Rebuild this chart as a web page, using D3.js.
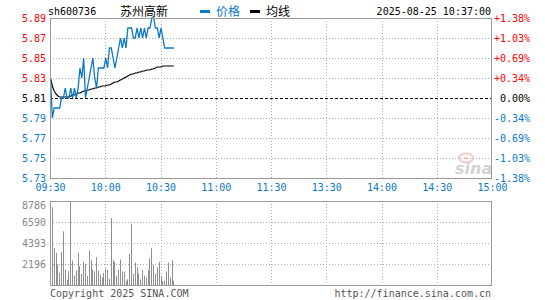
<!DOCTYPE html>
<html>
<head>
<meta charset="utf-8">
<script src="https://cdn.jsdelivr.net/npm/d3@7"></script>
<style>
  body { margin: 0; background: #fff; }
  text { font-family: "DejaVu Sans Mono", monospace; font-size: 10px; }
  .cjk { font-family: "Noto Sans CJK SC", sans-serif; font-size: 12px; }
</style>
</head>
<body>
<div class="chart"></div>
<script>
// ---- data ----
var timeLabels = ["09:30", "10:00", "10:30", "11:00", "11:30", "13:30", "14:00", "14:30", "15:00"];
var priceTicks = [5.89, 5.87, 5.85, 5.83, 5.81, 5.79, 5.77, 5.75, 5.73];
var pctLabels = ["+1.38%", "+1.03%", "+0.69%", "+0.34%", " 0.00%", "-0.34%", "-0.69%", "-1.03%", "-1.38%"];
var volTicks = [8786, 6590, 4393, 2196];
var preClose = 5.81;

// one value per minute from 09:30
var price = [5.83, 5.79, 5.80, 5.80, 5.80, 5.80, 5.81, 5.81, 5.82, 5.81,
  5.81, 5.82, 5.81, 5.82, 5.81, 5.82, 5.84, 5.83, 5.85, 5.81,
  5.82, 5.83, 5.84, 5.85, 5.83, 5.82, 5.84, 5.84, 5.84, 5.84,
  5.85, 5.84, 5.86, 5.86, 5.85, 5.84, 5.85, 5.86, 5.87, 5.86,
  5.87, 5.86, 5.88, 5.88, 5.88, 5.87, 5.87, 5.88, 5.87, 5.88,
  5.87, 5.88, 5.87, 5.88, 5.88, 5.89, 5.89, 5.88, 5.88, 5.87,
  5.88, 5.87, 5.86, 5.86, 5.86, 5.86, 5.86, 5.86];
var avgPrice = [5.830, 5.822, 5.817, 5.814, 5.812, 5.811, 5.811, 5.811, 5.811, 5.811,
  5.811, 5.812, 5.813, 5.813, 5.814, 5.815, 5.815, 5.816, 5.817, 5.817,
  5.818, 5.818, 5.819, 5.819, 5.820, 5.820, 5.821, 5.821, 5.822, 5.822,
  5.822, 5.823, 5.823, 5.824, 5.825, 5.826, 5.826, 5.827, 5.828, 5.829,
  5.830, 5.831, 5.832, 5.833, 5.834, 5.834, 5.835, 5.835, 5.836, 5.836,
  5.837, 5.837, 5.838, 5.838, 5.838, 5.839, 5.839, 5.840, 5.841, 5.841,
  5.841, 5.842, 5.842, 5.842, 5.842, 5.842, 5.842, 5.842];
var volume = [2230, 8130, 3870, 3350, 2200, 1250, 3450, 5610, 1600, 560,
  1440, 8786, 2560, 1000, 1500, 3350, 1950, 1150, 2440, 2160,
  940, 3620, 2580, 1600, 1440, 2900, 1500, 1080, 800, 1260,
  1700, 1600, 650, 7000, 2600, 2430, 950, 1570, 2680, 1400,
  1400, 450, 590, 3240, 6380, 1200, 2340, 1850, 1200, 590,
  1570, 950, 800, 1570, 2790, 3840, 2090, 1200, 1850, 2430,
  870, 420, 450, 1400, 2340, 800, 2600, 450];

var svgWidth = 545;
var svgHeight = 300;
var blue = "#0b78c9";
var red = "#ff0000";
var grid = "#aaaaaa";

var svg = d3.select(".chart").append("svg")
  .attr("width", svgWidth)
  .attr("height", svgHeight);

var x = d3.scaleLinear().domain([0, 240]).range([50, 492]);
var yP = d3.scaleLinear().domain([5.73, 5.89]).range([178, 18]);
var yV = d3.scaleLinear().domain([0, 8786]).range([285, 201]);

var tickColor = (v) => v > preClose + 1e-6 ? red : (v < preClose - 1e-6 ? blue : "#000");

//-------- grids -------------------------
var halfHours = d3.range(1, 8).map(d => d * 30);

svg.append("g").selectAll("line")
  .data(priceTicks.filter(d => d < 5.89 && d > 5.73 && d !== preClose))
  .enter().append("line")
  .attr("x1", x(0)).attr("x2", x(240))
  .attr("y1", d => Math.round(yP(d)) + 0.5).attr("y2", d => Math.round(yP(d)) + 0.5)
  .attr("stroke", grid).attr("stroke-dasharray", "1,2");

svg.append("g").selectAll("line")
  .data(halfHours)
  .enter().append("line")
  .attr("x1", d => Math.round(x(d)) + 0.5).attr("x2", d => Math.round(x(d)) + 0.5)
  .attr("y1", yP(5.89)).attr("y2", yP(5.73))
  .attr("stroke", grid).attr("stroke-dasharray", "1,2");

svg.append("g").selectAll("line")
  .data(volTicks.slice(1))
  .enter().append("line")
  .attr("x1", x(0)).attr("x2", x(240))
  .attr("y1", d => Math.round(yV(d)) + 0.5).attr("y2", d => Math.round(yV(d)) + 0.5)
  .attr("stroke", grid).attr("stroke-dasharray", "1,2");

svg.append("g").selectAll("line")
  .data(halfHours)
  .enter().append("line")
  .attr("x1", d => Math.round(x(d)) + 0.5).attr("x2", d => Math.round(x(d)) + 0.5)
  .attr("y1", yV(8786)).attr("y2", yV(0))
  .attr("stroke", grid).attr("stroke-dasharray", "1,2");

// previous close line
svg.append("line")
  .attr("x1", x(0)).attr("x2", x(240))
  .attr("y1", Math.round(yP(preClose)) + 0.5).attr("y2", Math.round(yP(preClose)) + 0.5)
  .attr("stroke", "#000").attr("stroke-dasharray", "3,2");

//-------- watermark ---------------------
var wm = svg.append("g").attr("opacity", 0.55);
wm.append("ellipse").attr("cx", 466).attr("cy", 158).attr("rx", 7).attr("ry", 4.5)
  .attr("fill", "none").attr("stroke", "#e8a0a0").attr("stroke-width", 2);
wm.append("circle").attr("cx", 466).attr("cy", 158).attr("r", 1.8).attr("fill", "#e8a0a0");
wm.append("text").attr("x", 455).attr("y", 174)
  .style("font-family", "DejaVu Sans").style("font-size", "16px")
  .style("font-weight", "bold").style("font-style", "italic")
  .attr("fill", "#b0b0b0").text("sina");

//-------- volume bars --------------------
svg.append("g").selectAll("rect")
  .data(volume)
  .enter().append("rect")
  .attr("x", (d, i) => Math.round(x(i)))
  .attr("y", d => yV(d))
  .attr("width", 1)
  .attr("height", d => yV(0) - yV(d))
  .attr("fill", "#8f8f8f");

//-------- lines -------------------------
var line = d3.line().x((d, i) => x(i) + 0.5);

svg.append("path")
  .attr("d", line.y(d => yP(d))(avgPrice))
  .attr("fill", "none").attr("stroke", "#000").attr("stroke-width", 1.2);

svg.append("path")
  .attr("d", line.y(d => yP(d))(price))
  .attr("fill", "none").attr("stroke", blue).attr("stroke-width", 1.3);

//-------- frames ------------------------
svg.append("rect").attr("x", 50.5).attr("y", 18.5).attr("width", 441).attr("height", 160)
  .attr("fill", "none").attr("stroke", "#999");
svg.append("rect").attr("x", 50.5).attr("y", 201.5).attr("width", 441).attr("height", 84)
  .attr("fill", "none").attr("stroke", "#999");

//-------- axes --------------------------
var leftAxis = svg.append("g")
  .attr("transform", "translate(50,0)")
  .call(d3.axisLeft(yP).tickValues(priceTicks).tickFormat(d3.format(".2f")).tickSize(0).tickPadding(4));
leftAxis.select(".domain").remove();
leftAxis.selectAll("text")
  .style("font-family", "DejaVu Sans Mono").style("font-size", "10px")
  .attr("fill", d => tickColor(d));

var rightAxis = svg.append("g")
  .attr("transform", "translate(492,0)")
  .call(d3.axisRight(yP).tickValues(priceTicks).tickFormat((d, i) => pctLabels[i]).tickSize(0).tickPadding(2));
rightAxis.select(".domain").remove();
rightAxis.selectAll("text")
  .style("font-family", "DejaVu Sans Mono").style("font-size", "10px")
  .style("white-space", "pre").attr("xml:space", "preserve")
  .attr("fill", d => tickColor(d));

var bottomAxis = svg.append("g")
  .attr("transform", "translate(0,178)")
  .call(d3.axisBottom(x).tickValues(d3.range(0, 241, 30)).tickFormat((d, i) => timeLabels[i]).tickSize(0).tickPadding(6));
bottomAxis.select(".domain").remove();
bottomAxis.selectAll("text")
  .style("font-family", "DejaVu Sans Mono").style("font-size", "10px")
  .attr("fill", blue);

var volAxis = svg.append("g")
  .attr("transform", "translate(50,0)")
  .call(d3.axisLeft(yV).tickValues(volTicks).tickFormat(d3.format("d")).tickSize(0).tickPadding(4));
volAxis.select(".domain").remove();
volAxis.selectAll("text")
  .style("font-family", "DejaVu Sans Mono").style("font-size", "10px")
  .attr("fill", "#888");
volAxis.select(".tick text").attr("dy", "0.75em");

//-------- header / footer ---------------
svg.append("text").attr("x", 48).attr("y", 15).attr("fill", "#000").text("sh600736");
svg.append("text").attr("class", "cjk").attr("x", 120).attr("y", 16).attr("fill", "#000").text("苏州高新");
svg.append("rect").attr("x", 200).attr("y", 10).attr("width", 10).attr("height", 3).attr("fill", blue);
svg.append("text").attr("class", "cjk").attr("x", 216).attr("y", 16).attr("fill", blue).text("价格");
svg.append("rect").attr("x", 250).attr("y", 10).attr("width", 10).attr("height", 3).attr("fill", "#000");
svg.append("text").attr("class", "cjk").attr("x", 266).attr("y", 16).attr("fill", "#000").text("均线");
svg.append("text").attr("x", 491).attr("y", 15).attr("text-anchor", "end").attr("fill", "#000")
  .text("2025-08-25 10:37:00");

svg.append("text").attr("x", 50).attr("y", 297).attr("fill", "#555").text("Copyright 2025 SINA.COM");
svg.append("text").attr("x", 491).attr("y", 297).attr("text-anchor", "end").attr("fill", "#555")
  .text("http://finance.sina.com.cn");
</script>
</body>
</html>
